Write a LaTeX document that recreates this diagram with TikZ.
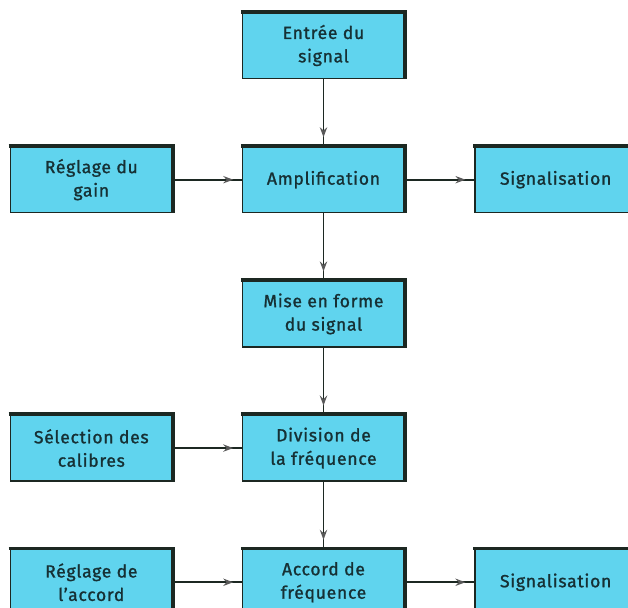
\documentclass[tikz,border=0pt]{standalone}
\usepackage{fontspec}
\setmainfont{Fira Sans}[LetterSpace=4, FakeBold=1.2]
\usetikzlibrary{arrows.meta, positioning, decorations.markings}
\definecolor{boxfill}{RGB}{96,212,238}
\definecolor{boxline}{RGB}{28,40,34}
\definecolor{boxtext}{RGB}{22,48,52}

\begin{document}
\begin{tikzpicture}[
    node distance=2.0cm and 2.07cm,
    block/.style={draw=boxline, line width=1.3pt, fill=boxfill, align=center,
        minimum width=4.85cm, minimum height=1.98cm, inner sep=0pt,
        font=\fontsize{15}{20}\selectfont, text=boxtext},
    rim/.style={draw=boxline, line width=3.4pt},
    flow/.style={draw=boxline, line width=1.5pt, postaction={decorate},
        decoration={markings, mark=at position -2.6mm with {\arrow[color=gray!70!black]{Stealth[length=3mm, width=2.2mm, inset=1mm]}}}}
]
\clip (0,0) rectangle (18.84,-18.24);
\node[block] (entree) at (9.705,-1.365) {Entrée du\\signal};
\node[block, below=of entree] (ampli) {Amplification};
\node[block, left=of ampli] (gain) {Réglage du\\gain};
\node[block, right=of ampli] (signal1) {Signalisation};
\node[block, below=of ampli] (forme) {Mise en forme\\du signal};
\node[block, below=of forme] (division) {Division de\\la fréquence};
\node[block, left=of division] (calibres) {Sélection des\\calibres};
\node[block, below=of division] (accord) {Accord de\\fréquence};
\node[block, left=of accord] (reglage) {Réglage de\\l'accord};
\node[block, right=of accord] (signal2) {Signalisation};
% thick edge on top and right of each box
\foreach \n in {entree, ampli, gain, signal1, forme, division, calibres, accord, reglage, signal2}
    \draw[rim] ([xshift=-0.3mm]\n.north west) -- (\n.north east) -- (\n.south east);
\draw[flow] (entree) -- (ampli);
\draw[flow] (gain) -- (ampli);
\draw[flow] (ampli) -- (signal1);
\draw[flow] (ampli) -- (forme);
\draw[flow] (forme) -- (division);
\draw[flow] (calibres) -- (division);
\draw[flow] (division) -- (accord);
\draw[flow] (reglage) -- (accord);
\draw[flow] (accord) -- (signal2);
\end{tikzpicture}
\end{document}
